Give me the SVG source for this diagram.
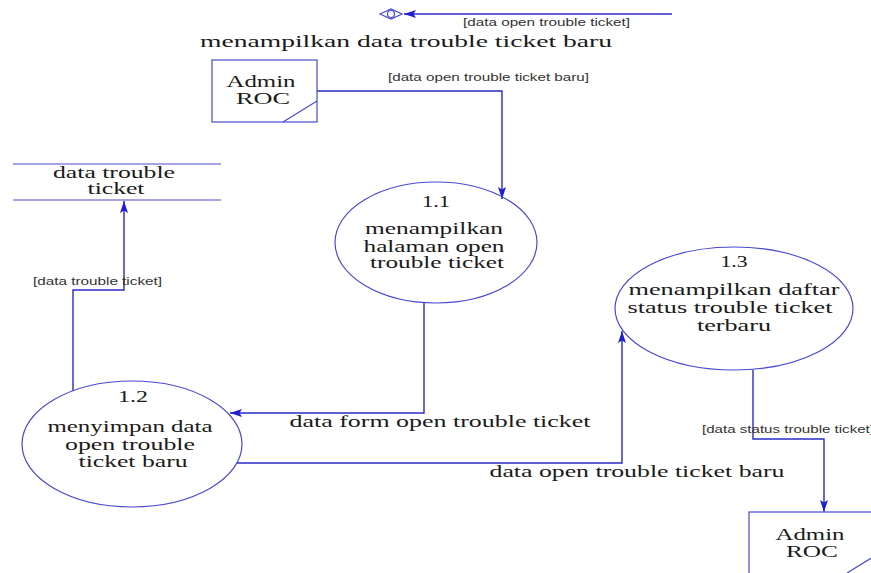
<svg xmlns="http://www.w3.org/2000/svg" width="871" height="573" viewBox="0 0 871 573">
  <style>
    .shape { fill: none; stroke: #4a4ad0; stroke-width: 1.2; }
    .flow { fill: none; stroke: #2a2ac8; stroke-width: 1.4; }
    .big { font-family: "Liberation Serif", "DejaVu Serif", "Times New Roman", serif; font-size: 16px; fill: #1a1a1a; text-anchor: middle; }
    .small { font-family: "Liberation Sans", "DejaVu Sans", Arial, sans-serif; font-size: 10.5px; fill: #333333; }
  </style>
  <defs>
    <marker id="arrow" markerUnits="userSpaceOnUse" markerWidth="13" markerHeight="9" refX="12" refY="4" orient="auto">
      <path d="M0,0 L12,4 L0,8 L2.5,4 Z" fill="#1f1fd0"/>
    </marker>
  </defs>

  <rect width="871" height="573" fill="#ffffff"/>

  <!-- connectors -->
  <g id="connectors">
    <path class="flow" d="M672,14 H404" marker-end="url(#arrow)"/>
    <text class="small" x="463" y="26" textLength="167" lengthAdjust="spacingAndGlyphs">[data open trouble ticket]</text>
    <text class="big" x="406" y="47" textLength="412" lengthAdjust="spacingAndGlyphs">menampilkan data trouble ticket baru</text>

    <path class="flow" d="M317,91 H502 V199" marker-end="url(#arrow)"/>
    <text class="small" x="388" y="81" textLength="201" lengthAdjust="spacingAndGlyphs">[data open trouble ticket baru]</text>

    <path class="flow" d="M424,303 V413 H230" marker-end="url(#arrow)"/>
    <text class="big" x="440" y="427" textLength="301" lengthAdjust="spacingAndGlyphs">data form open trouble ticket</text>

    <path class="flow" d="M73,391 V290 H124 V201" marker-end="url(#arrow)"/>
    <text class="small" x="33" y="285" textLength="129" lengthAdjust="spacingAndGlyphs">[data trouble ticket]</text>

    <path class="flow" d="M237,463 H622 V331" marker-end="url(#arrow)"/>
    <text class="big" x="637" y="477" textLength="295" lengthAdjust="spacingAndGlyphs">data open trouble ticket baru</text>

    <path class="flow" d="M753,370 V439 H824 V512" marker-end="url(#arrow)"/>
    <text class="small" x="702" y="433" textLength="172" lengthAdjust="spacingAndGlyphs">[data status trouble ticket]</text>
  </g>

  <!-- off-page connector -->
  <g id="connector-point">
    <path class="shape" d="M380,14 L391,9 L402,14 L391,19 Z"/>
    <circle class="shape" cx="391" cy="14" r="3.5"/>
  </g>

  <!-- external entity: Admin ROC (top) -->
  <g id="admin-roc-top">
    <rect class="shape" x="212" y="60" width="105" height="62"/>
    <path class="shape" d="M283,122 L317,101"/>
    <text class="big" x="261" y="87" textLength="69" lengthAdjust="spacingAndGlyphs">Admin</text>
    <text class="big" x="263" y="104" textLength="54" lengthAdjust="spacingAndGlyphs">ROC</text>
  </g>

  <!-- data store -->
  <g id="data-trouble-ticket">
    <path class="shape" d="M13,164 H221 M13,200 H221"/>
    <text class="big" x="114" y="178" textLength="122" lengthAdjust="spacingAndGlyphs">data trouble</text>
    <text class="big" x="116" y="194" textLength="57" lengthAdjust="spacingAndGlyphs">ticket</text>
  </g>

  <!-- process 1.1 -->
  <g id="process-1-1">
    <ellipse class="shape" cx="436" cy="242.5" rx="101" ry="60.5"/>
    <text class="big" x="436" y="207" textLength="28" lengthAdjust="spacingAndGlyphs">1.1</text>
    <text class="big" x="434" y="234" textLength="138" lengthAdjust="spacingAndGlyphs">menampilkan</text>
    <text class="big" x="434" y="252" textLength="141" lengthAdjust="spacingAndGlyphs">halaman open</text>
    <text class="big" x="437" y="268" textLength="134" lengthAdjust="spacingAndGlyphs">trouble ticket</text>
  </g>

  <!-- process 1.2 -->
  <g id="process-1-2">
    <ellipse class="shape" cx="132" cy="444" rx="110" ry="63"/>
    <text class="big" x="133" y="402" textLength="30" lengthAdjust="spacingAndGlyphs">1.2</text>
    <text class="big" x="130" y="432" textLength="165" lengthAdjust="spacingAndGlyphs">menyimpan data</text>
    <text class="big" x="130" y="450" textLength="130" lengthAdjust="spacingAndGlyphs">open trouble</text>
    <text class="big" x="133" y="467" textLength="109" lengthAdjust="spacingAndGlyphs">ticket baru</text>
  </g>

  <!-- process 1.3 -->
  <g id="process-1-3">
    <ellipse class="shape" cx="734" cy="308.5" rx="119" ry="61.5"/>
    <text class="big" x="734" y="267" textLength="27" lengthAdjust="spacingAndGlyphs">1.3</text>
    <text class="big" x="734" y="295" textLength="211" lengthAdjust="spacingAndGlyphs">menampilkan daftar</text>
    <text class="big" x="730" y="313" textLength="205" lengthAdjust="spacingAndGlyphs">status trouble ticket</text>
    <text class="big" x="734" y="331" textLength="74" lengthAdjust="spacingAndGlyphs">terbaru</text>
  </g>

  <!-- external entity: Admin ROC (bottom) -->
  <g id="admin-roc-bottom">
    <rect class="shape" x="749" y="512" width="130" height="70"/>
    <path class="shape" d="M847,573 L881,552"/>
    <text class="big" x="810" y="540" textLength="69" lengthAdjust="spacingAndGlyphs">Admin</text>
    <text class="big" x="812" y="557" textLength="52" lengthAdjust="spacingAndGlyphs">ROC</text>
  </g>
</svg>
